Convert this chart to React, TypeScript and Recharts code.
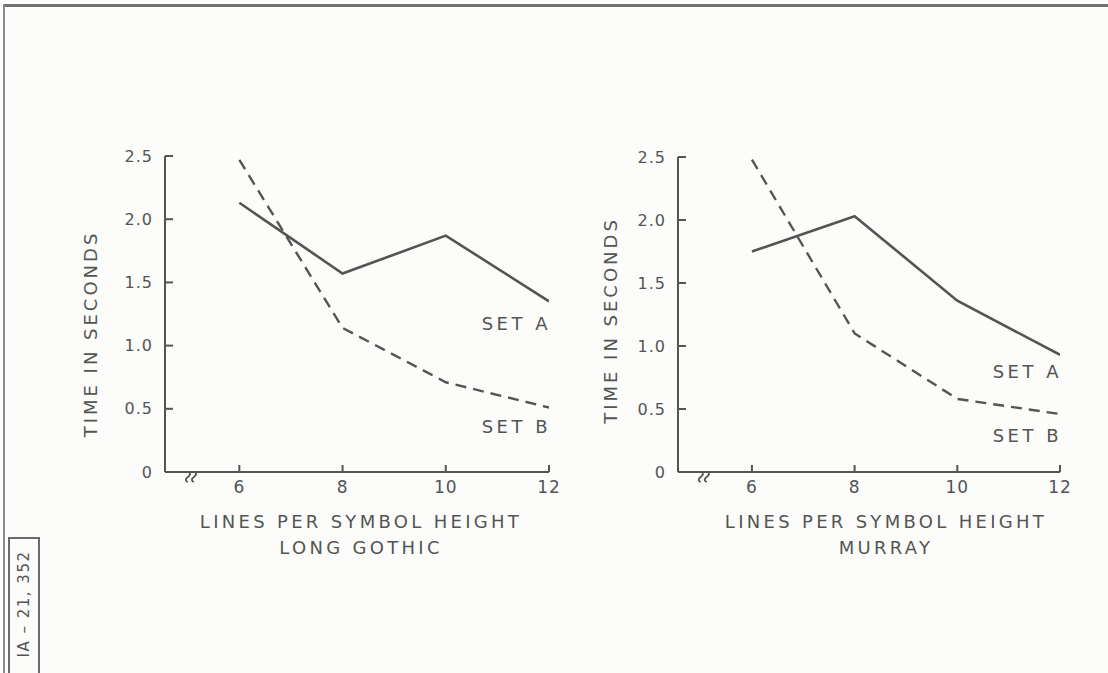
import React from 'react';
import { LineChart, Line, XAxis, YAxis, ReferenceDot, LabelList } from 'recharts';

// lines per symbol height
const linesPerSymbol = [6, 8, 10, 12];
const xTicks = [6, 8, 10, 12];
const yTicks = [0, 0.5, 1.0, 1.5, 2.0, 2.5];

// time in seconds
const gothicSetA = [2.13, 1.57, 1.87, 1.35];
const gothicSetB = [2.47, 1.14, 0.71, 0.51];
const murraySetA = [1.75, 2.03, 1.36, 0.93];
const murraySetB = [2.48, 1.1, 0.58, 0.46];

const INK = '#535553';
const FONT = '"DejaVu Sans", sans-serif';

const toRows = (a: number[], b: number[]) =>
  linesPerSymbol.map((x, i) => ({ x, setA: a[i], setB: b[i] }));

// the little "≀≀" break on the x axis
const BreakMark = (props: any) => {
  const { cx, cy } = props;
  if (cx == null || cy == null) return null;
  const squiggle = (x0: number) =>
    `M${x0 + 1},${cy} q3,2 -1,5 q-4,3 0,5`;
  return (
    <g stroke={INK} strokeWidth={1.8} fill="none">
      <path d={squiggle(cx - 4)} />
      <path d={squiggle(cx + 2)} />
    </g>
  );
};

const endLabel = (text: string, dy: number) => (props: any) => {
  const { x, y, index } = props;
  if (index !== linesPerSymbol.length - 1) return null;
  return (
    <text x={x + 2} y={y + dy} textAnchor="end" fill={INK} fontFamily={FONT}
      fontSize={18} letterSpacing={3.5}>
      {text}
    </text>
  );
};

interface PanelProps {
  left: number;
  width: number;
  marginLeft: number;
  marginRight: number;
  top: number;
  setA: number[];
  setB: number[];
  font: string;
  titleDx: number;
  yTitleDx: number;
  yTitleDy: number;
  aDy: number;
  bDy: number;
}

const Panel: React.FC<PanelProps> = ({ left, width, marginLeft, marginRight, top, setA, setB, font, titleDx, yTitleDx, yTitleDy, aDy, bDy }) => {
  const data = toRows(setA, setB);
  const tickStyle = { fill: INK, fontSize: 16, fontFamily: FONT, letterSpacing: 1 };
  return (
    <div style={{ position: 'absolute', left, top: 0 }}>
      <LineChart width={width} height={673} data={data}
        margin={{ top, right: marginRight, left: marginLeft, bottom: 171 }}>
        <XAxis dataKey="x" type="number" domain={[4.56, 12]} ticks={xTicks}
          allowDataOverflow height={30}
          axisLine={{ stroke: INK, strokeWidth: 2 }}
          tickLine={{ stroke: INK, strokeWidth: 2 }}
          tickSize={-7} tickMargin={16}
          tick={{ ...tickStyle, fontSize: 17 }}
          label={(p: any) => {
            const vb = p.viewBox;
            const cx = vb.x + vb.width / 2 + titleDx;
            return (
              <g fill={INK} fontFamily={FONT} fontSize={18} letterSpacing={3.3} textAnchor="middle">
                <text x={cx} y={vb.y + 56}>LINES PER SYMBOL HEIGHT</text>
                <text x={cx} y={vb.y + 82}>{font}</text>
              </g>
            );
          }} />
        <YAxis type="number" domain={[0, 2.5]} ticks={yTicks} width={60}
          axisLine={{ stroke: INK, strokeWidth: 2 }}
          tickLine={{ stroke: INK, strokeWidth: 2 }}
          tickSize={-8} tickMargin={20}
          tick={tickStyle}
          tickFormatter={(v: number) => (v === 0 ? '0' : v.toFixed(1))}
          label={(p: any) => {
            const vb = p.viewBox;
            const x = vb.x + yTitleDx;
            const y = vb.y + vb.height / 2 + yTitleDy;
            return (
              <text x={x} y={y} transform={`rotate(-90 ${x} ${y})`} textAnchor="middle"
                fill={INK} fontFamily={FONT} fontSize={18} letterSpacing={3}>
                TIME IN SECONDS
              </text>
            );
          }} />
        <ReferenceDot x={5.08} y={0} r={0} shape={BreakMark} />
        <Line dataKey="setA" type="linear" stroke={INK} strokeWidth={2.6} dot={false}
          isAnimationActive={false}>
          <LabelList dataKey="setA" content={endLabel('SET A', aDy)} />
        </Line>
        <Line dataKey="setB" type="linear" stroke={INK} strokeWidth={2.4} strokeDasharray="11 7"
          dot={false} isAnimationActive={false}>
          <LabelList dataKey="setB" content={endLabel('SET B', bDy)} />
        </Line>
      </LineChart>
    </div>
  );
};

export default function App() {
  return (
    <div style={{ position: 'absolute', left: 0, top: 0, width: 1108, height: 673, background: '#fcfcfb', overflow: 'hidden' }}>
      <div style={{ position: 'absolute', left: 3, top: 4, right: 0, height: 0, borderTop: '3px solid #707070' }} />
      <div style={{ position: 'absolute', left: 3, top: 4, bottom: 0, width: 0, borderLeft: '2px solid #8a8a8a' }} />
      <Panel left={0} width={560} marginLeft={105} marginRight={11} top={156}
        setA={gothicSetA} setB={gothicSetB} font="LONG GOTHIC" titleDx={4}
        yTitleDx={-8} yTitleDy={20} aDy={29} bDy={25} />
      <Panel left={560} width={548} marginLeft={58} marginRight={48} top={157}
        setA={murraySetA} setB={murraySetB} font="MURRAY" titleDx={17}
        yTitleDx={-1} yTitleDy={6} aDy={23} bDy={28} />
      <div style={{ position: 'absolute', left: 8, top: 537, width: 28, height: 150, border: '2px solid #6a6a6a' }}>
        <div style={{ position: 'absolute', left: 14, top: 65, transform: 'translate(-50%, -50%) rotate(-90deg)',
          whiteSpace: 'nowrap', fontFamily: FONT, fontSize: 15, color: INK, letterSpacing: 1.5 }}>
          IA – 21, 352
        </div>
      </div>
    </div>
  );
}
